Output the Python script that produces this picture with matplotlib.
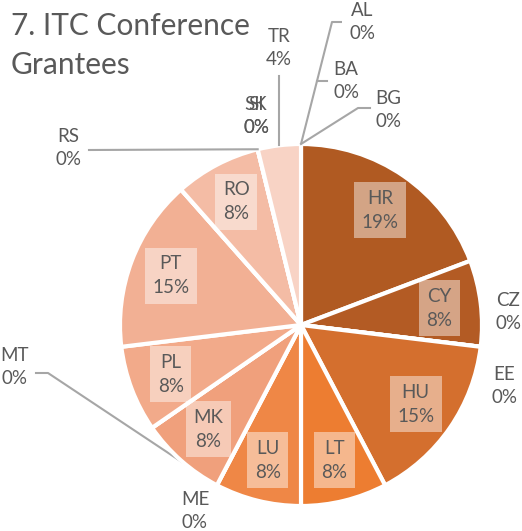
import numpy as np
import matplotlib
matplotlib.use("Agg")
import matplotlib.pyplot as plt

# grantee counts per country, in the order the slices go round (clockwise from 12 o'clock)
countries = ["AL", "BA", "BG", "HR", "CY", "CZ", "EE", "HU", "LT", "LU",
             "ME", "MK", "MT", "PL", "PT", "RS", "RO", "SI", "SK", "TR"]
counts = [0, 0, 0, 5, 2, 0, 0, 4, 2, 2,
          0, 2, 0, 2, 4, 0, 2, 0, 0, 1]
colors = ["#A9521C", "#AD561F", "#AF5821", "#B05A22", "#B35B24", "#C2632A", "#CC682C",
          "#D46F2E", "#ED7D31", "#EF8746", "#EF9665", "#F0A07C", "#F1A684", "#F2AA8A",
          "#F2B094", "#F3B49A", "#F4BCA5", "#F6C6B3", "#F7CDBC", "#F8D3C5"]

# pixel layout of the picture
W, H = 522, 531
CX, CY, R = 301, H - 325, 181
TXT = "#595959"
LINE = "#A6A6A6"
FONT = "Lato"
FS = 13.5

# zero-share labels sit outside the pie (pixel positions of text centres)
outside_pos = {"AL": (362, 22), "BA": (346, 81), "BG": (388, 110), "TR": (279, 48),
               "SI": (256, 116), "SK": (256, 116), "RS": (68, 148), "CZ": (508, 312),
               "EE": (504, 386), "MT": (14, 367), "ME": (195, 511)}


def px(x, y):
    # picture pixel (y down) -> data coords (y up)
    return x, H - y


def edge(theta):
    # point on the pie rim at clockwise angle theta (deg from top)
    a = np.radians(90 - theta)
    return CX + R * np.cos(a), CY + R * np.sin(a)


fig = plt.figure(figsize=(W / 100, H / 100), dpi=100)
ax = fig.add_axes([0, 0, 1, 1])

ax.pie(counts, colors=colors, center=(CX, CY), radius=R, startangle=90,
       counterclock=False,
       wedgeprops=dict(edgecolor="white", linewidth=3, zorder=2))

total = sum(counts)
pct = [round(100 * c / total) for c in counts]
start = 0.0
for name, c, p in zip(countries, counts, pct):
    span = 360.0 * c / total
    mid = start + span / 2
    if c > 0 and name != "TR":
        a = np.radians(90 - mid)
        x = CX + 0.77 * R * np.cos(a)
        y = CY + 0.77 * R * np.sin(a)
        ax.text(x, y, f"{name}\n{p}%", ha="center", va="center", fontsize=FS,
                family=FONT, color=TXT, linespacing=1.5, zorder=5,
                bbox=dict(boxstyle="square,pad=0.4", facecolor="white",
                          alpha=0.45, edgecolor="none"))
    else:
        x, y = px(*outside_pos[name])
        ax.text(x, y, f"{name}\n{p}%", ha="center", va="center", fontsize=FS,
                family=FONT, color=TXT, linespacing=1.4, zorder=5)
    start += span

# leader lines for the outside labels
top = edge(0)
al_end = px(332, 22)
ax.plot([top[0], al_end[0], al_end[0] + 10], [top[1], al_end[1], al_end[1]],
        color=LINE, lw=1.5, zorder=4, solid_capstyle="butt")
ba_y = H - 81
ba_x = top[0] + (al_end[0] - top[0]) * (ba_y - top[1]) / (al_end[1] - top[1])
ax.plot([ba_x, ba_x + 10], [ba_y, ba_y], color=LINE, lw=1.5, zorder=4)
bg_mid = px(358, 108)
ax.plot([top[0], bg_mid[0], bg_mid[0] + 12], [top[1], bg_mid[1], bg_mid[1]],
        color=LINE, lw=1.5, zorder=4)
# TR
tr_theta = 360 - 360.0 * counts[-1] / total / 2
tr_e = edge(tr_theta)
ax.plot([tr_e[0], tr_e[0]], [tr_e[1], H - 76], color=LINE, lw=1.5, zorder=4)
# RS
rs_theta = 360 - 360.0 * counts[-1] / total
rs_e = edge(rs_theta)
ax.plot([rs_e[0], 89], [rs_e[1], H - 150], color=LINE, lw=1.5, zorder=4)
# MT (runs under the pie)
me_theta = 360.0 * sum(counts[:11]) / total
me_e = edge(me_theta)
ax.plot([36, 48, me_e[0]], [H - 373, H - 373, me_e[1]], color=LINE, lw=1.5, zorder=1)

fig.text(11 / W, 1 - 12 / H, "7. ITC Conference\nGrantees", ha="left", va="top",
         fontsize=21.5, family=FONT, color=TXT, linespacing=1.5)

ax.set_xlim(0, W)
ax.set_ylim(0, H)
ax.set_aspect("equal")
ax.axis("off")

fig.savefig("out.png", dpi=100)
